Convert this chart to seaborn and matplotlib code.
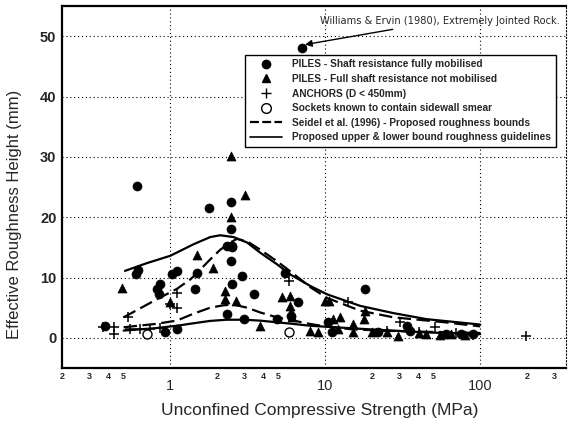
import numpy as np
import pandas as pd
import matplotlib
matplotlib.use("Agg")
import matplotlib.pyplot as plt
from matplotlib.lines import Line2D
from matplotlib.ticker import FixedLocator, NullFormatter, FixedFormatter
import seaborn as sns

# ---- data: UCS (MPa) vs effective roughness height (mm) ----
piles_full_x = [0.61, 0.62, 0.60, 0.86, 0.82, 0.84, 0.93, 1.10, 1.10, 1.03, 1.45, 1.49,
                1.77, 2.48, 2.48, 2.48, 2.32, 2.50, 2.50, 2.90, 2.50, 3.45, 2.32, 2.97,
                4.88, 5.52, 6.70, 6.00, 10.4, 0.38, 18.1, 33.6, 11.0, 22.0, 35.0, 60.0,
                75.0, 90.0, 7.10]
piles_full_y = [25.2, 11.3, 10.5, 8.9, 8.1, 7.2, 0.9, 1.5, 11.1, 10.5, 8.1, 10.8,
                21.5, 22.5, 18.0, 12.7, 15.2, 15.3, 8.9, 10.2, 15.0, 7.3, 3.9, 3.1,
                3.1, 10.8, 5.9, 3.7, 2.6, 2.0, 8.1, 1.9, 1.0, 0.9, 1.2, 0.7,
                0.7, 0.6, 48.0]

piles_part_x = [2.48, 3.02, 2.48, 1.49, 1.90, 0.49, 1.00, 2.26, 2.26, 2.66, 3.81, 5.25,
                5.95, 5.90, 6.00, 6.10, 10.5, 10.0, 18.1, 17.7, 12.5, 11.3, 15.2, 29.6,
                8.0, 9.0, 12.0, 15.0, 20.0, 25.0, 40.0, 45.0, 55.0, 65.0, 80.0]
piles_part_y = [30.1, 23.7, 20.0, 13.8, 11.6, 8.3, 5.9, 7.8, 6.4, 6.1, 2.0, 6.7,
                7.0, 5.2, 4.2, 3.5, 6.1, 6.1, 4.5, 3.1, 3.4, 3.1, 2.3, 0.3,
                1.2, 1.0, 1.4, 1.0, 0.9, 0.9, 0.8, 0.6, 0.5, 0.6, 0.5]

anchors_x = [1.10, 1.00, 1.10, 0.53, 0.37, 0.43, 0.43, 0.55, 0.64, 0.74, 0.86, 5.80,
             14.1, 30.5, 51.0, 25.0, 40.0, 70.0, 90.0, 197.0]
anchors_y = [7.5, 5.6, 5.0, 3.4, 1.75, 1.75, 0.65, 1.5, 1.5, 1.5, 1.7, 9.4,
             5.9, 2.6, 1.75, 1.2, 1.0, 0.8, 0.4, 0.3]

smear_x = [0.71, 5.80]
smear_y = [0.65, 0.9]

# Seidel et al. (1996) bounds
seidel_up_x = [0.5, 0.64, 0.82, 1.1, 1.35, 1.56, 1.81, 2.1, 2.44, 2.69, 3.13, 3.81,
               4.88, 6.25, 8.0, 10.3, 16.8, 27.5, 58.0, 100.0]
seidel_up_y = [3.4, 4.9, 6.4, 8.1, 9.7, 11.3, 13.0, 14.6, 15.8, 16.4, 16.0, 14.6,
               12.7, 10.6, 8.4, 6.6, 4.5, 3.4, 2.6, 1.9]
seidel_lo_x = [0.5, 0.8, 1.1, 1.41, 1.81, 2.21, 2.56, 3.13, 3.81, 4.88, 6.25, 8.0,
               10.0, 15.0, 30.0, 100.0]
seidel_lo_y = [1.75, 2.3, 2.85, 4.0, 5.0, 5.4, 5.5, 5.0, 4.2, 3.4, 2.85, 2.3,
               1.9, 1.4, 1.1, 0.8]

# proposed guideline bounds
guide_up_x = [0.51, 0.71, 1.0, 1.41, 1.81, 2.1, 2.56, 3.13, 3.81, 4.88, 5.95, 8.0,
              10.3, 16.8, 27.5, 45.0, 100.0]
guide_up_y = [11.1, 12.4, 13.6, 15.5, 16.7, 17.0, 16.7, 15.8, 14.1, 12.2, 10.5, 8.6,
              7.2, 5.3, 4.1, 3.1, 2.2]
guide_lo_x = [0.5, 0.8, 1.1, 1.4, 1.8, 2.3, 3.0, 3.81, 6.25, 8.0, 16.8, 45.0, 100.0]
guide_lo_y = [1.2, 1.6, 2.0, 2.4, 2.8, 3.0, 3.0, 2.85, 2.3, 2.0, 1.5, 0.9, 0.6]

x_minor_labels = [0.2, 0.3, 0.4, 0.5, 2, 3, 4, 5, 20, 30, 40, 50, 200, 300]
x_major_labels = [1, 10, 100]
y_ticks = [0, 10, 20, 30, 40, 50]

sns.set_theme(style="white")
plt.rcParams["font.family"] = ["Liberation Sans", "DejaVu Sans"]

fig = plt.figure(figsize=(5.68, 4.21), dpi=100)
ax = fig.add_axes([62 / 568, 1 - 368 / 421, 504 / 568, 362 / 421])
ax.set_xscale("log")

def df(x, y):
    return pd.DataFrame({"x": x, "y": y})

for cx, cy, ls in [(seidel_up_x, seidel_up_y, (0, (6, 2.5))),
                   (seidel_lo_x, seidel_lo_y, (0, (6, 2.5))),
                   (guide_up_x, guide_up_y, "-"),
                   (guide_lo_x, guide_lo_y, "-")]:
    sns.lineplot(data=df(cx, cy), x="x", y="y", ax=ax, color="black",
                 lw=1.6, linestyle=ls, sort=True, estimator=None)

sns.scatterplot(data=df(piles_full_x, piles_full_y), x="x", y="y", ax=ax,
                marker="o", s=42, color="black", edgecolor="black", linewidth=0.5)
sns.scatterplot(data=df(piles_part_x, piles_part_y), x="x", y="y", ax=ax,
                marker="^", s=42, color="black", edgecolor="black", linewidth=0.5)
sns.scatterplot(data=df(anchors_x, anchors_y), x="x", y="y", ax=ax,
                marker="+", s=42, color="black", linewidth=1.1)
sns.scatterplot(data=df(smear_x, smear_y), x="x", y="y", ax=ax,
                marker="o", s=42, facecolor="white", edgecolor="black", linewidth=1.0)

ax.set_xlim(0.2, 358)
ax.set_ylim(-5, 55)

# ticks and grid
ax.xaxis.set_major_locator(FixedLocator(x_major_labels))
ax.xaxis.set_major_formatter(FixedFormatter([str(v) for v in x_major_labels]))
minor_pos = [m * 10.0 ** k for k in range(-1, 3) for m in range(2, 10)]
ax.xaxis.set_minor_locator(FixedLocator(minor_pos))
ax.xaxis.set_minor_formatter(NullFormatter())
ax.set_yticks(y_ticks)
ax.set_yticks([-5, 5, 15, 25, 35, 45, 55], minor=True)
ax.tick_params(axis="both", which="major", direction="in", length=5, width=1.0,
               color="black", labelsize=10.5, pad=4)
ax.tick_params(axis="both", which="minor", direction="in", length=3, width=0.8,
               color="black")
ax.tick_params(axis="x", which="major", pad=8)
for lbl in ax.get_yticklabels():
    lbl.set_fontweight("bold")
for v in x_minor_labels:
    digit = int(round(v / 10 ** np.floor(np.log10(v))))
    ax.text(v, -0.012, str(digit), transform=ax.get_xaxis_transform(),
            ha="center", va="top", fontsize=6.5, fontweight="bold")

ax.grid(True, which="major", color="black", linestyle=(0, (1, 2.5)), linewidth=0.8)

for side in ["left", "bottom", "top"]:
    ax.spines[side].set_linewidth(1.6)
    ax.spines[side].set_color("black")
ax.spines["right"].set_linewidth(0.8)
ax.spines["right"].set_linestyle((0, (1, 2)))
ax.spines["right"].set_color("black")

ax.set_xlabel("Unconfined Compressive Strength (MPa)", fontsize=12.5, va="center")
ax.set_ylabel("Effective Roughness Height (mm)", fontsize=12, va="center")
ax.xaxis.set_label_coords((320 - 62) / 504, -(410 - 368) / 362)
ax.yaxis.set_label_coords(-(62 - 15) / 504, (368 - 214) / 362)

ax.annotate("Williams & Ervin (1980), Extremely Jointed Rock.",
            xy=(7.4, 48.6), xytext=(9.3, 52.5), fontsize=7.1, va="center", ha="left",
            family=["DejaVu Sans"],
            arrowprops=dict(arrowstyle="-|>", color="black", lw=1.0,
                            mutation_scale=10, shrinkA=0, shrinkB=0))

handles = [
    Line2D([], [], marker="o", color="black", ls="none", markersize=6),
    Line2D([], [], marker="^", color="black", ls="none", markersize=6),
    Line2D([], [], marker="+", color="black", ls="none", markersize=7, mew=1.0),
    Line2D([], [], marker="o", mfc="white", mec="black", ls="none", markersize=7),
    Line2D([], [], color="black", lw=1.6, ls=(0, (4, 1.5))),
    Line2D([], [], color="black", lw=1.2, ls="-"),
]
labels = [
    "PILES - Shaft resistance fully mobilised",
    "PILES - Full shaft resistance not mobilised",
    "ANCHORS (D < 450mm)",
    "Sockets known to contain sidewall smear",
    "Seidel et al. (1996) - Proposed roughness bounds",
    "Proposed upper & lower bound roughness guidelines",
]
leg = ax.legend(handles, labels, loc="upper left", bbox_to_anchor=(0.363, 0.865),
                prop={"size": 7.3, "weight": "bold"}, frameon=True, fancybox=False,
                edgecolor="black", framealpha=1, handlelength=3.2, handletextpad=1.0,
                labelspacing=0.45, borderpad=0.45, borderaxespad=0)
leg.get_frame().set_linewidth(1.0)

fig.savefig("out.png", dpi=100)
